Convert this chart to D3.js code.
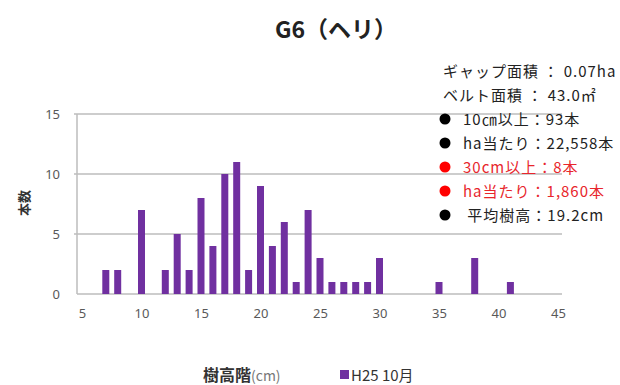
<!DOCTYPE html>
<html>
<head>
<meta charset="utf-8">
<script src="https://cdn.jsdelivr.net/npm/d3@7"></script>
<style>
  html, body { margin: 0; padding: 0; background: #fff; }
  svg { display: block; }
  text { font-family: "Noto Sans CJK JP", "Noto Sans", sans-serif; }
</style>
</head>
<body>
<svg id="chart" width="620" height="385"></svg>
<script>
// Tree height class (cm) and number of trees in each class
const heights = [7, 8, 10, 12, 13, 14, 15, 16, 17, 18, 19, 20, 21, 22, 23, 24, 25, 26, 27, 28, 29, 30, 35, 38, 41];
const counts  = [2, 2, 7, 2, 5, 2, 8, 4, 10, 11, 2, 9, 4, 6, 1, 7, 3, 1, 1, 1, 1, 3, 1, 3, 1];
const xTicks = [5, 10, 15, 20, 25, 30, 35, 40, 45];
const yTicks = [0, 5, 10, 15];

const title = "G6（ヘリ）";
const seriesName = "H25 10月";
const xTitle = "樹高階";
const xUnit = "(cm)";
const yTitle = "本数";

// Summary notes shown on the right
const notes = [
  { text: "ギャップ面積 ： 0.07ha", dot: null },
  { text: "ベルト面積 ： 43.0㎡", dot: null },
  { text: "10㎝以上：93本", dot: "#000" },
  { text: "ha当たり：22,558本", dot: "#000" },
  { text: "30cm以上：8本", dot: "#ff0000" },
  { text: "ha当たり：1,860本", dot: "#ff0000" },
  { text: " 平均樹高：19.2cm", dot: "#000" }
];

const svg = d3.select("#chart");
const plot = { left: 77, right: 562, top: 114, bottom: 294 };

const x = d3.scaleLinear().domain([5, 45]).range([82, 558]);
const y = d3.scaleLinear().domain([0, 15]).range([plot.bottom, plot.top]);

const barColor = "#7030a0";
const gridColor = "#bdbdbd";
const tickColor = "#595959";

// Horizontal gridlines
svg.append("g")
  .selectAll("line")
  .data(yTicks.filter(d => d > 0))
  .join("line")
  .attr("x1", plot.left - 3)
  .attr("x2", plot.right)
  .attr("y1", d => y(d))
  .attr("y2", d => y(d))
  .attr("stroke", gridColor)
  .attr("stroke-width", 1.5);

// Axis lines
svg.append("line")
  .attr("x1", plot.left).attr("x2", plot.left)
  .attr("y1", plot.top).attr("y2", plot.bottom)
  .attr("stroke", gridColor).attr("stroke-width", 1.5);
svg.append("line")
  .attr("x1", plot.left).attr("x2", plot.right)
  .attr("y1", plot.bottom).attr("y2", plot.bottom)
  .attr("stroke", gridColor).attr("stroke-width", 1.5);

// Bars
const barW = 7;
svg.append("g")
  .selectAll("rect")
  .data(heights.map((h, i) => ({ h, n: counts[i] })))
  .join("rect")
  .attr("x", d => x(d.h) - barW / 2)
  .attr("width", barW)
  .attr("y", d => y(d.n))
  .attr("height", d => y(0) - y(d.n))
  .attr("fill", barColor);

// Tick labels
const xAxis = d3.axisBottom(x).tickValues(xTicks).tickSize(0).tickPadding(0);
const gx = svg.append("g").attr("transform", `translate(0, ${plot.bottom + 20})`).call(xAxis);
gx.select(".domain").remove();
gx.selectAll("text")
  .attr("fill", tickColor)
  .attr("dy", "0.32em")
  .style("font-family", "'Noto Sans', sans-serif")
  .style("font-size", "13px");

const yAxis = d3.axisLeft(y).tickValues(yTicks).tickSize(0).tickPadding(0);
const gy = svg.append("g").attr("transform", `translate(${plot.left - 17}, 0)`).call(yAxis);
gy.select(".domain").remove();
gy.selectAll("text")
  .attr("fill", tickColor)
  .style("font-family", "'Noto Sans', sans-serif")
  .style("font-size", "13px");

// Title
svg.append("text")
  .attr("x", 336).attr("y", 38)
  .attr("text-anchor", "middle")
  .attr("font-size", 23)
  .attr("font-weight", "bold")
  .attr("fill", "#222")
  .text(title);

// Y axis title
svg.append("text")
  .attr("transform", "translate(29, 203) rotate(-90)")
  .attr("text-anchor", "middle")
  .attr("font-size", 13)
  .attr("font-weight", "bold")
  .attr("fill", "#333")
  .text(yTitle);

// X axis title
const xt = svg.append("text")
  .attr("x", 203).attr("y", 381)
  .attr("font-size", 16)
  .attr("fill", "#333");
xt.append("tspan").attr("font-weight", "bold").text(xTitle);
xt.append("tspan").attr("fill", "#777").attr("font-size", 14).text(xUnit);

// Series legend
svg.append("rect")
  .attr("x", 340).attr("y", 370)
  .attr("width", 9).attr("height", 9)
  .attr("fill", barColor);
svg.append("text")
  .attr("x", 351).attr("y", 381)
  .attr("font-size", 15)
  .attr("fill", "#333")
  .text(seriesName);

// Summary notes
const noteG = svg.append("g");
notes.forEach((d, i) => {
  const cy = 71 + i * 24;
  const isRed = d.dot === "#ff0000";
  if (d.dot) {
    noteG.append("circle")
      .attr("cx", 445).attr("cy", cy)
      .attr("r", 5.5)
      .attr("fill", d.dot);
  }
  noteG.append("text")
    .attr("x", d.dot ? 463 : 443)
    .attr("y", cy + 5.5)
    .attr("font-size", 15)
    .attr("letter-spacing", 1)
    .attr("fill", isRed ? "#e8262c" : "#222")
    .attr("xml:space", "preserve")
    .style("white-space", "pre")
    .text(d.text);
});
</script>
</body>
</html>
